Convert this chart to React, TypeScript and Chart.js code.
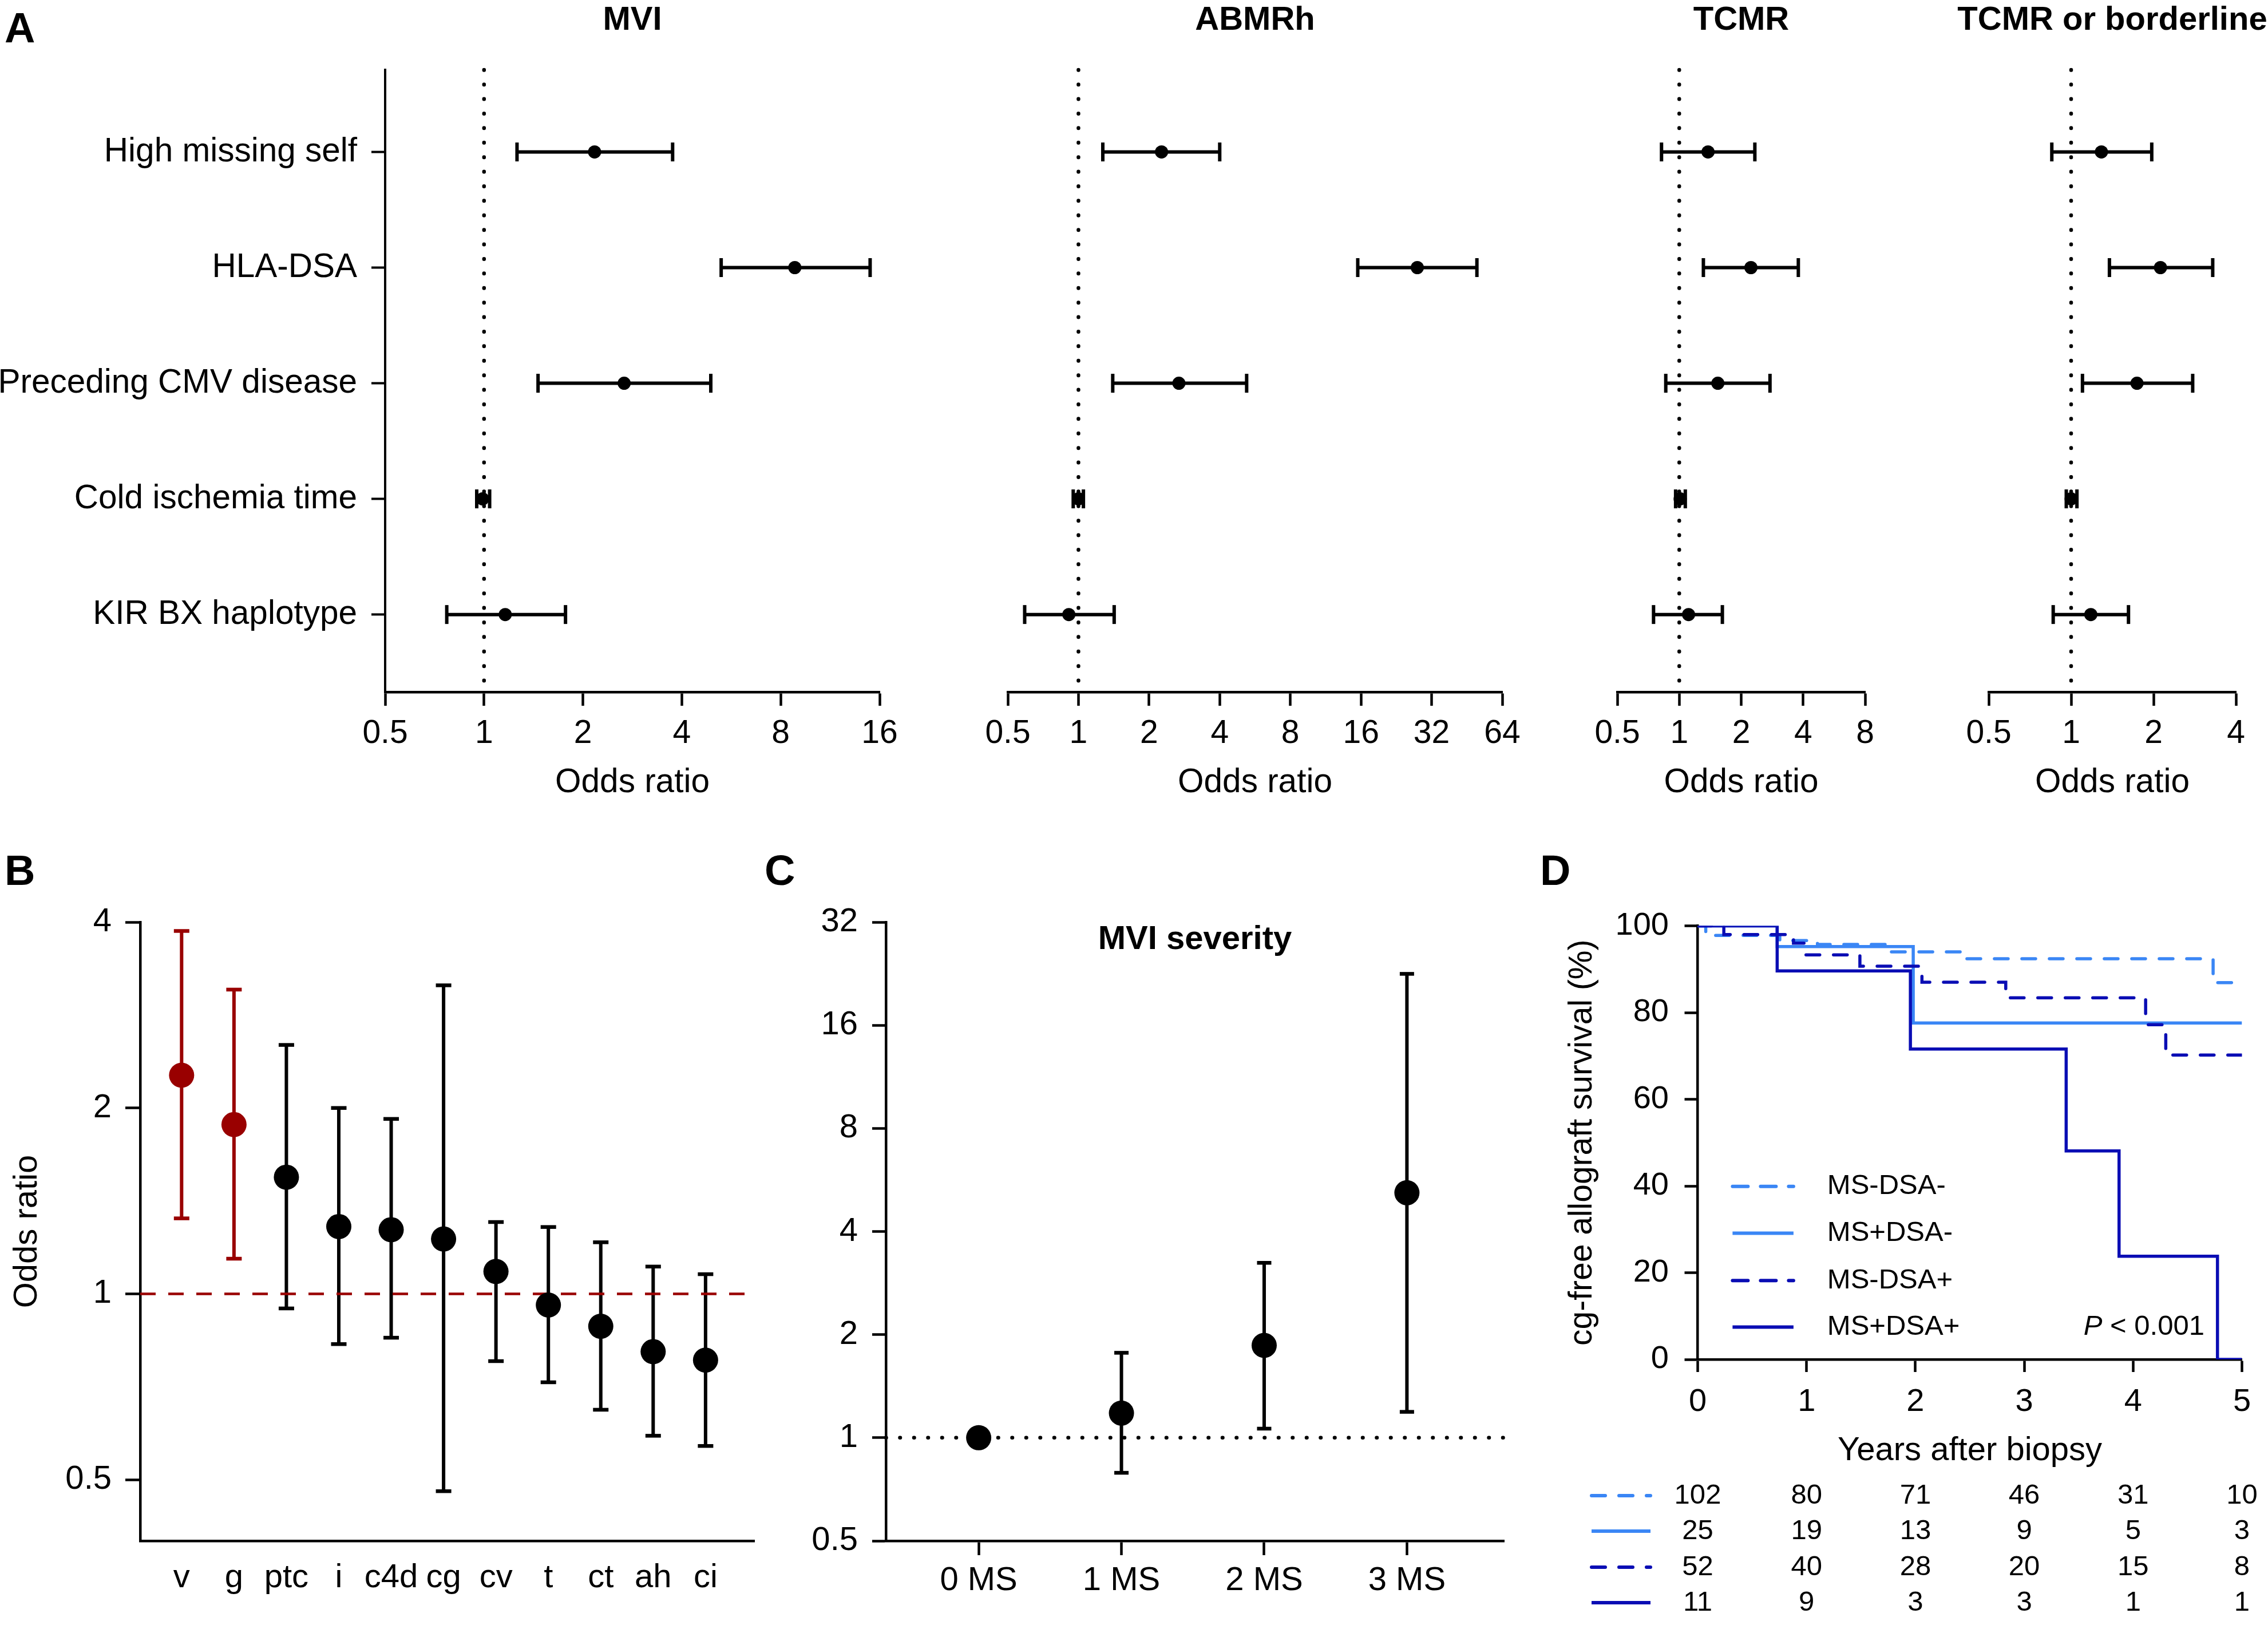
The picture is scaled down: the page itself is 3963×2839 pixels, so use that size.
import React, { useEffect, useRef } from 'react';
import { Chart, registerables } from 'chart.js';

Chart.register(...registerables);

const FONT = "'Liberation Sans', Arial, Helvetica, sans-serif";
const BLACK = '#000000';
const RED = '#990000';
const LIGHT_BLUE = '#3a86f5';
const DARK_BLUE = '#0a0db4';

// ---------------- Panel A data ----------------
const A_CATEGORIES = ['High missing self', 'HLA-DSA', 'Preceding CMV disease', 'Cold ischemia time', 'KIR BX haplotype'];

const MVI_OR = [2.17, 8.83, 2.67, 0.99, 1.16];
const MVI_LO = [1.26, 5.27, 1.46, 0.95, 0.77];
const MVI_HI = [3.75, 14.97, 4.9, 1.04, 1.77];
const MVI_TICKS = [0.5, 1, 2, 4, 8, 16];

const ABMRH_OR = [2.26, 27.8, 2.68, 1.0, 0.91];
const ABMRH_LO = [1.27, 15.5, 1.4, 0.95, 0.59];
const ABMRH_HI = [4.0, 49.9, 5.21, 1.05, 1.42];
const ABMRH_TICKS = [0.5, 1, 2, 4, 8, 16, 32, 64];

const TCMR_OR = [1.38, 2.23, 1.54, 1.01, 1.11];
const TCMR_LO = [0.82, 1.31, 0.86, 0.96, 0.75];
const TCMR_HI = [2.33, 3.79, 2.76, 1.07, 1.62];
const TCMR_TICKS = [0.5, 1, 2, 4, 8];

const TCMRB_OR = [1.29, 2.12, 1.74, 1.0, 1.18];
const TCMRB_LO = [0.85, 1.38, 1.1, 0.96, 0.86];
const TCMRB_HI = [1.97, 3.29, 2.78, 1.05, 1.62];
const TCMRB_TICKS = [0.5, 1, 2, 4];

// ---------------- Panel B data ----------------
const B_LABELS = ['v', 'g', 'ptc', 'i', 'c4d', 'cg', 'cv', 't', 'ct', 'ah', 'ci'];
const B_OR = [2.26, 1.88, 1.545, 1.285, 1.27, 1.227, 1.087, 0.959, 0.886, 0.806, 0.781];
const B_LO = [1.325, 1.14, 0.947, 0.829, 0.849, 0.479, 0.778, 0.719, 0.649, 0.589, 0.567];
const B_HI = [3.87, 3.11, 2.53, 2.0, 1.92, 3.16, 1.307, 1.283, 1.212, 1.107, 1.076];
const B_SIGNIFICANT = [true, true, false, false, false, false, false, false, false, false, false];
const B_TICKS = [0.5, 1, 2, 4];

// ---------------- Panel C data ----------------
const C_LABELS = ['0 MS', '1 MS', '2 MS', '3 MS'];
const C_OR = [1, 1.18, 1.86, 5.19];
const C_LO = [null, 0.79, 1.063, 1.19];
const C_HI = [null, 1.77, 3.24, 22.6];
const C_TICKS = [0.5, 1, 2, 4, 8, 16, 32];

// ---------------- Panel D data ----------------
const D_GROUPS = ['MS-DSA-', 'MS+DSA-', 'MS-DSA+', 'MS+DSA+'];
const D_T_MSN_DSAN = [0, 0.074, 0.754, 1.1, 1.76, 2.45, 4.735, 5];
const D_S_MSN_DSAN = [100, 97.8, 96.6, 95.7, 94.0, 92.4, 86.9, 86.9];
const D_T_MSP_DSAN = [0, 0.73, 1.98, 5];
const D_S_MSP_DSAN = [100, 95.2, 77.6, 77.6];
const D_T_MSN_DSAP = [0, 0.24, 0.88, 0.98, 1.49, 2.06, 2.83, 4.115, 4.3, 5];
const D_S_MSN_DSAP = [100, 98.0, 96.0, 93.3, 90.7, 87.0, 83.4, 77.2, 70.2, 70.2];
const D_T_MSP_DSAP = [0, 0.73, 1.954, 3.385, 3.871, 4.775, 5];
const D_S_MSP_DSAP = [100, 89.6, 71.6, 48.1, 23.8, 0, 0];
const D_X_TICKS = [0, 1, 2, 3, 4, 5];
const D_Y_TICKS = [0, 20, 40, 60, 80, 100];
const D_RISK_YEARS = [0, 1, 2, 3, 4, 5];
const D_RISK_MSN_DSAN = [102, 80, 71, 46, 31, 10];
const D_RISK_MSP_DSAN = [25, 19, 13, 9, 5, 3];
const D_RISK_MSN_DSAP = [52, 40, 28, 20, 15, 8];
const D_RISK_MSP_DSAP = [11, 9, 3, 3, 1, 1];
const D_P_TEXT = '< 0.001';

// ---------------- styles ----------------
const D_STYLES = [
  { color: LIGHT_BLUE, dashed: true },
  { color: LIGHT_BLUE, dashed: false },
  { color: DARK_BLUE, dashed: true },
  { color: DARK_BLUE, dashed: false },
];
const CURVE_DASH = [24, 24];
const LEGEND_DASH = [27, 22];
const A_FONT_SIZE = 58.5;

function letterPlugin(letter: string, x: number, y: number) {
  return {
    id: 'panelLetter',
    afterDraw(chart: any) {
      const ctx = chart.ctx;
      ctx.save();
      ctx.fillStyle = BLACK;
      ctx.font = `bold 74px ${FONT}`;
      ctx.textAlign = 'left';
      ctx.textBaseline = 'alphabetic';
      ctx.fillText(letter, x, y);
      ctx.restore();
    },
  };
}

function centerTitlePlugin(text: string, y: number) {
  return {
    id: 'centerTitle',
    afterDraw(chart: any) {
      const ctx = chart.ctx;
      const a = chart.chartArea;
      ctx.save();
      ctx.fillStyle = BLACK;
      ctx.font = `bold 58px ${FONT}`;
      ctx.textAlign = 'center';
      ctx.textBaseline = 'middle';
      ctx.fillText(text, (a.left + a.right) / 2, y);
      ctx.restore();
    },
  };
}

const baseOptions = {
  responsive: false,
  animation: false,
  events: [],
};

const noPlugins = {
  legend: { display: false },
  tooltip: { enabled: false },
  title: { display: false },
};

// ---------------- Panel A builder ----------------
const A_CANVAS_H = 1420;
const A_AREA_TOP = 122;
const A_AREA_BOTTOM = 1209;
const A_ROW_MIN = 0.29;
const A_ROW_MAX = 5.67;

function forestConfig(o: any) {
  const datasets: any[] = [];
  datasets.push({
    type: 'line',
    data: o.or.map((v: number, i: number) => ({ x: v, y: i + 1 })),
    showLine: false,
    pointStyle: 'circle',
    pointRadius: 11.5,
    pointBackgroundColor: BLACK,
    pointBorderWidth: 0,
    pointHoverRadius: 11.5,
  });
  o.lo.forEach((lo: number, i: number) => {
    datasets.push({
      type: 'line',
      data: [{ x: lo, y: i + 1 }, { x: o.hi[i], y: i + 1 }],
      borderColor: BLACK,
      borderWidth: 6,
      pointStyle: 'line',
      pointRotation: 90,
      pointRadius: 16.5,
      pointHoverRadius: 16.5,
      pointBorderWidth: 6,
      pointBorderColor: BLACK,
    });
  });
  datasets.push({
    type: 'line',
    data: [{ x: 1, y: A_ROW_MIN }, { x: 1, y: A_ROW_MAX }],
    borderColor: BLACK,
    borderWidth: 6.5,
    borderDash: [0.5, 24.9],
    borderCapStyle: 'round',
    pointRadius: 0,
    clip: false,
  });
  const yWidth = o.showCategories ? o.areaLeft - o.canvasLeft : 0;
  const plugins: any[] = [centerTitlePlugin(o.title, 36)];
  if (o.letter) plugins.push(letterPlugin(o.letter, 8, 74));
  return {
    type: 'line',
    data: { datasets },
    options: {
      ...baseOptions,
      layout: {
        padding: {
          left: o.showCategories ? 0 : o.areaLeft - o.canvasLeft,
          right: o.canvasLeft + o.canvasWidth - o.areaRight,
          top: A_AREA_TOP,
          bottom: 0,
        },
      },
      plugins: noPlugins,
      scales: {
        x: {
          type: 'logarithmic',
          position: 'bottom',
          min: o.ticks[0],
          max: o.ticks[o.ticks.length - 1],
          afterBuildTicks: (s: any) => {
            s.ticks = o.ticks.map((v: number) => ({ value: v }));
          },
          afterFit: (s: any) => {
            s.height = A_CANVAS_H - A_AREA_BOTTOM;
          },
          ticks: {
            callback: (v: number) => String(v),
            color: BLACK,
            font: { family: FONT, size: 57 },
            padding: 14.8,
            autoSkip: false,
            maxRotation: 0,
            minRotation: 0,
          },
          grid: { drawOnChartArea: false, drawTicks: true, tickLength: 24, tickWidth: 4.5, tickColor: BLACK, color: BLACK },
          border: { display: true, color: BLACK, width: 4.5 },
          title: {
            display: true,
            text: 'Odds ratio',
            color: BLACK,
            font: { family: FONT, size: A_FONT_SIZE },
            padding: { top: 0, bottom: A_CANVAS_H - 1368 - 35 },
          },
        },
        y: {
          type: 'linear',
          position: 'left',
          display: o.showCategories,
          reverse: true,
          min: A_ROW_MIN,
          max: A_ROW_MAX,
          afterBuildTicks: (s: any) => {
            s.ticks = A_CATEGORIES.map((_, i) => ({ value: i + 1 }));
          },
          afterFit: (s: any) => {
            s.width = yWidth;
          },
          ticks: {
            callback: (v: number) => A_CATEGORIES[Math.round(v) - 1],
            color: BLACK,
            font: { family: FONT, size: A_FONT_SIZE },
            padding: 25,
            autoSkip: false,
          },
          grid: { drawOnChartArea: false, drawTicks: true, tickLength: 24, tickWidth: 4, tickColor: BLACK, color: BLACK },
          border: { display: true, color: BLACK, width: 4 },
        },
      },
    },
    plugins,
  };
}

// ---------------- Panel B ----------------
const B_BOX = { left: 0, top: 1450, width: 1340, height: 1389 };
function bConfig() {
  const colorOf = (i: number) => (B_SIGNIFICANT[i] ? RED : BLACK);
  const datasets: any[] = [];
  datasets.push({
    type: 'line',
    data: B_OR.map((v, i) => ({ x: i + 1, y: v })),
    showLine: false,
    pointStyle: 'circle',
    pointRadius: 22,
    pointHoverRadius: 22,
    pointBackgroundColor: B_OR.map((_, i) => colorOf(i)),
    pointBorderWidth: 0,
  });
  datasets.push({
    type: 'line',
    data: [{ x: 0.21, y: 1 }, { x: 11.93, y: 1 }],
    borderColor: RED,
    borderWidth: 4.5,
    borderDash: [27, 22],
    pointRadius: 0,
  });
  B_LO.forEach((lo, i) => {
    datasets.push({
      type: 'line',
      data: [{ x: i + 1, y: lo }, { x: i + 1, y: B_HI[i] }],
      borderColor: colorOf(i),
      borderWidth: 6,
      pointStyle: 'line',
      pointRotation: 0,
      pointRadius: 13.5,
      pointHoverRadius: 13.5,
      pointBorderWidth: 6.5,
      pointBorderColor: colorOf(i),
    });
  });
  return {
    type: 'line',
    data: { datasets },
    options: {
      ...baseOptions,
      layout: { padding: { left: 0, top: 161, right: 14, bottom: 0 } },
      plugins: noPlugins,
      scales: {
        x: {
          type: 'linear',
          position: 'bottom',
          min: 0.21,
          max: 11.93,
          afterBuildTicks: (s: any) => {
            s.ticks = B_LABELS.map((_, i) => ({ value: i + 1 }));
          },
          afterFit: (s: any) => {
            s.height = 147;
          },
          ticks: {
            callback: (v: number) => B_LABELS[Math.round(v) - 1],
            color: BLACK,
            font: { family: FONT, size: 58 },
            padding: 29.8,
            autoSkip: false,
            maxRotation: 0,
            minRotation: 0,
          },
          grid: { drawOnChartArea: false, drawTicks: false },
          border: { display: true, color: BLACK, width: 4.5 },
        },
        y: {
          type: 'logarithmic',
          position: 'left',
          min: 0.398,
          max: 4,
          afterBuildTicks: (s: any) => {
            s.ticks = B_TICKS.map((v) => ({ value: v }));
          },
          afterFit: (s: any) => {
            s.width = 245;
          },
          ticks: {
            callback: (v: number) => String(v),
            color: BLACK,
            font: { family: FONT, size: 58 },
            padding: 24,
            autoSkip: false,
          },
          grid: { drawOnChartArea: false, drawTicks: true, tickLength: 26, tickWidth: 4.5, tickColor: BLACK, color: BLACK },
          border: { display: true, color: BLACK, width: 4.5 },
          title: {
            display: true,
            text: 'Odds ratio',
            color: BLACK,
            font: { family: FONT, size: 58 },
            padding: { top: 12.8, bottom: 0 },
          },
        },
      },
    },
    plugins: [letterPlugin('B', 8, 96)],
  };
}

// ---------------- Panel C ----------------
const C_BOX = { left: 1320, top: 1450, width: 1330, height: 1389 };
function cConfig() {
  const datasets: any[] = [];
  datasets.push({
    type: 'line',
    data: C_OR.map((v, i) => ({ x: i + 1, y: v })),
    showLine: false,
    pointStyle: 'circle',
    pointRadius: 22,
    pointHoverRadius: 22,
    pointBackgroundColor: BLACK,
    pointBorderWidth: 0,
  });
  C_LO.forEach((lo, i) => {
    if (lo === null || C_HI[i] === null) return;
    datasets.push({
      type: 'line',
      data: [{ x: i + 1, y: lo }, { x: i + 1, y: C_HI[i] }],
      borderColor: BLACK,
      borderWidth: 6,
      pointStyle: 'line',
      pointRotation: 0,
      pointRadius: 12.5,
      pointHoverRadius: 12.5,
      pointBorderWidth: 6.5,
      pointBorderColor: BLACK,
    });
  });
  datasets.push({
    type: 'line',
    data: [{ x: 0.35, y: 1 }, { x: 4.68, y: 1 }],
    borderColor: BLACK,
    borderWidth: 6.5,
    borderDash: [0.5, 24],
    borderCapStyle: 'round',
    pointRadius: 0,
    clip: false,
  });
  return {
    type: 'line',
    data: { datasets },
    options: {
      ...baseOptions,
      layout: { padding: { left: 0, top: 161, right: 18, bottom: 0 } },
      plugins: noPlugins,
      scales: {
        x: {
          type: 'linear',
          position: 'bottom',
          min: 0.35,
          max: 4.68,
          afterBuildTicks: (s: any) => {
            s.ticks = C_LABELS.map((_, i) => ({ value: i + 1 }));
          },
          afterFit: (s: any) => {
            s.height = 147;
          },
          ticks: {
            callback: (v: number) => C_LABELS[Math.round(v) - 1],
            color: BLACK,
            font: { family: FONT, size: 58 },
            padding: 9.8,
            autoSkip: false,
            maxRotation: 0,
            minRotation: 0,
          },
          grid: { drawOnChartArea: false, drawTicks: true, tickLength: 25, tickWidth: 4.5, tickColor: BLACK, color: BLACK },
          border: { display: true, color: BLACK, width: 4.5 },
        },
        y: {
          type: 'logarithmic',
          position: 'left',
          min: 0.5,
          max: 32,
          afterBuildTicks: (s: any) => {
            s.ticks = C_TICKS.map((v) => ({ value: v }));
          },
          afterFit: (s: any) => {
            s.width = 228;
          },
          ticks: {
            callback: (v: number) => String(v),
            color: BLACK,
            font: { family: FONT, size: 58 },
            padding: 25,
            autoSkip: false,
          },
          grid: { drawOnChartArea: false, drawTicks: true, tickLength: 24, tickWidth: 4.5, tickColor: BLACK, color: BLACK },
          border: { display: true, color: BLACK, width: 4.5 },
        },
      },
    },
    plugins: [letterPlugin('C', 16, 96), centerTitlePlugin('MVI severity', 192)],
  };
}

// ---------------- Panel D ----------------
const D_BOX = { left: 2650, top: 1450, width: 1313, height: 1389 };
const D_SERIES = [
  { t: D_T_MSN_DSAN, s: D_S_MSN_DSAN, risk: D_RISK_MSN_DSAN },
  { t: D_T_MSP_DSAN, s: D_S_MSP_DSAN, risk: D_RISK_MSP_DSAN },
  { t: D_T_MSN_DSAP, s: D_S_MSN_DSAP, risk: D_RISK_MSN_DSAP },
  { t: D_T_MSP_DSAP, s: D_S_MSP_DSAP, risk: D_RISK_MSP_DSAP },
];

const dExtrasPlugin = {
  id: 'dExtras',
  afterDraw(chart: any) {
    const ctx = chart.ctx;
    const xs = chart.scales.x;
    const ys = chart.scales.y;
    ctx.save();
    // legend inside the plot
    const legendLevels = [39.9, 29.1, 18.2, 7.45];
    D_GROUPS.forEach((g, i) => {
      const st = D_STYLES[i];
      const yy = ys.getPixelForValue(legendLevels[i]);
      ctx.strokeStyle = st.color;
      ctx.lineWidth = 6;
      ctx.setLineDash(st.dashed ? LEGEND_DASH : []);
      ctx.lineCap = st.dashed ? 'round' : 'butt';
      ctx.beginPath();
      ctx.moveTo(xs.getPixelForValue(0.32), yy);
      ctx.lineTo(xs.getPixelForValue(0.88), yy);
      ctx.stroke();
      ctx.setLineDash([]);
      ctx.fillStyle = BLACK;
      ctx.font = `49px ${FONT}`;
      ctx.textAlign = 'left';
      ctx.textBaseline = 'middle';
      ctx.fillText(g, xs.getPixelForValue(1.19), yy);
    });
    // P value
    const py = ys.getPixelForValue(7.45);
    let px = xs.getPixelForValue(3.545);
    ctx.font = `italic 49px ${FONT}`;
    ctx.fillText('P', px, py);
    px += ctx.measureText('P ').width;
    ctx.font = `49px ${FONT}`;
    ctx.fillText(D_P_TEXT, px, py);
    // risk table
    const rowY = [1163, 1225, 1288, 1350];
    D_SERIES.forEach((ser, i) => {
      const st = D_STYLES[i];
      ctx.strokeStyle = st.color;
      ctx.lineWidth = 6;
      ctx.setLineDash(st.dashed ? CURVE_DASH : []);
      ctx.lineCap = st.dashed ? 'round' : 'butt';
      ctx.beginPath();
      ctx.moveTo(131, rowY[i]);
      ctx.lineTo(234, rowY[i]);
      ctx.stroke();
      ctx.setLineDash([]);
      ctx.fillStyle = BLACK;
      ctx.font = `49px ${FONT}`;
      ctx.textAlign = 'center';
      ctx.textBaseline = 'middle';
      ser.risk.forEach((n, j) => {
        ctx.fillText(String(n), xs.getPixelForValue(D_RISK_YEARS[j]), rowY[i]);
      });
    });
    ctx.restore();
  },
};

function dConfig() {
  const datasets: any[] = D_SERIES.map((ser, i) => ({
    type: 'line',
    label: D_GROUPS[i],
    data: ser.t.map((t, j) => ({ x: t, y: ser.s[j] })),
    stepped: 'before',
    borderColor: D_STYLES[i].color,
    borderWidth: 5.5,
    borderDash: D_STYLES[i].dashed ? CURVE_DASH : [],
    borderCapStyle: D_STYLES[i].dashed ? 'round' : 'butt',
    pointRadius: 0,
    fill: false,
  })).reverse();
  return {
    type: 'line',
    data: { datasets },
    options: {
      ...baseOptions,
      layout: { padding: { left: 0, top: 167.5, right: 45.5, bottom: 0 } },
      plugins: noPlugins,
      scales: {
        x: {
          type: 'linear',
          position: 'bottom',
          min: 0,
          max: 5,
          afterBuildTicks: (s: any) => {
            s.ticks = D_X_TICKS.map((v) => ({ value: v }));
          },
          afterFit: (s: any) => {
            s.height = 464;
          },
          ticks: {
            callback: (v: number) => String(v),
            color: BLACK,
            font: { family: FONT, size: 56 },
            padding: 19,
            autoSkip: false,
            maxRotation: 0,
            minRotation: 0,
          },
          grid: { drawOnChartArea: false, drawTicks: true, tickLength: 22, tickWidth: 4.5, tickColor: BLACK, color: BLACK },
          border: { display: true, color: BLACK, width: 4.5 },
          title: {
            display: true,
            text: 'Years after biopsy',
            color: BLACK,
            font: { family: FONT, size: 58 },
            padding: { top: 0, bottom: 269 },
          },
        },
        y: {
          type: 'linear',
          position: 'left',
          min: 0,
          max: 100,
          afterBuildTicks: (s: any) => {
            s.ticks = D_Y_TICKS.map((v) => ({ value: v }));
          },
          afterFit: (s: any) => {
            s.width = 316.5;
          },
          ticks: {
            callback: (v: number) => String(v),
            color: BLACK,
            font: { family: FONT, size: 56 },
            padding: 27.5,
            autoSkip: false,
          },
          grid: { drawOnChartArea: false, drawTicks: true, tickLength: 23, tickWidth: 4.5, tickColor: BLACK, color: BLACK },
          border: { display: true, color: BLACK, width: 4.5 },
          title: {
            display: true,
            text: 'cg-free allograft survival (%)',
            color: BLACK,
            font: { family: FONT, size: 57 },
            padding: { top: 81, bottom: 0 },
          },
        },
      },
    },
    plugins: [letterPlugin('D', 41, 96), dExtrasPlugin],
  };
}

// ---------------- canvas component ----------------
function ChartCanvas({ box, build }: { box: any; build: () => any }) {
  const ref = useRef<HTMLCanvasElement | null>(null);
  useEffect(() => {
    if (!ref.current) return;
    const chart = new Chart(ref.current, build());
    return () => chart.destroy();
  }, []);
  return (
    <canvas
      ref={ref}
      width={box.width}
      height={box.height}
      style={{ position: 'absolute', left: box.left, top: box.top, width: box.width, height: box.height }}
    />
  );
}

const A1_BOX = { left: 0, top: 0, width: 1640, height: A_CANVAS_H };
const A2_BOX = { left: 1640, top: 0, width: 1100, height: A_CANVAS_H };
const A3_BOX = { left: 2740, top: 0, width: 620, height: A_CANVAS_H };
const A4_BOX = { left: 3360, top: 0, width: 603, height: A_CANVAS_H };

export default function App() {
  return (
    <div style={{ position: 'absolute', left: 0, top: 0, width: 3963, height: 2839, background: '#ffffff', overflow: 'hidden' }}>
      <ChartCanvas
        box={A1_BOX}
        build={() =>
          forestConfig({ title: 'MVI', or: MVI_OR, lo: MVI_LO, hi: MVI_HI, ticks: MVI_TICKS, canvasLeft: 0, canvasWidth: 1640, areaLeft: 673, areaRight: 1537, showCategories: true, letter: 'A' })
        }
      />
      <ChartCanvas
        box={A2_BOX}
        build={() =>
          forestConfig({ title: 'ABMRh', or: ABMRH_OR, lo: ABMRH_LO, hi: ABMRH_HI, ticks: ABMRH_TICKS, canvasLeft: 1640, canvasWidth: 1100, areaLeft: 1761, areaRight: 2625, showCategories: false })
        }
      />
      <ChartCanvas
        box={A3_BOX}
        build={() =>
          forestConfig({ title: 'TCMR', or: TCMR_OR, lo: TCMR_LO, hi: TCMR_HI, ticks: TCMR_TICKS, canvasLeft: 2740, canvasWidth: 620, areaLeft: 2826, areaRight: 3259, showCategories: false })
        }
      />
      <ChartCanvas
        box={A4_BOX}
        build={() =>
          forestConfig({ title: 'TCMR or borderline', or: TCMRB_OR, lo: TCMRB_LO, hi: TCMRB_HI, ticks: TCMRB_TICKS, canvasLeft: 3360, canvasWidth: 603, areaLeft: 3475, areaRight: 3907, showCategories: false })
        }
      />
      <ChartCanvas box={B_BOX} build={bConfig} />
      <ChartCanvas box={C_BOX} build={cConfig} />
      <ChartCanvas box={D_BOX} build={dConfig} />
    </div>
  );
}
